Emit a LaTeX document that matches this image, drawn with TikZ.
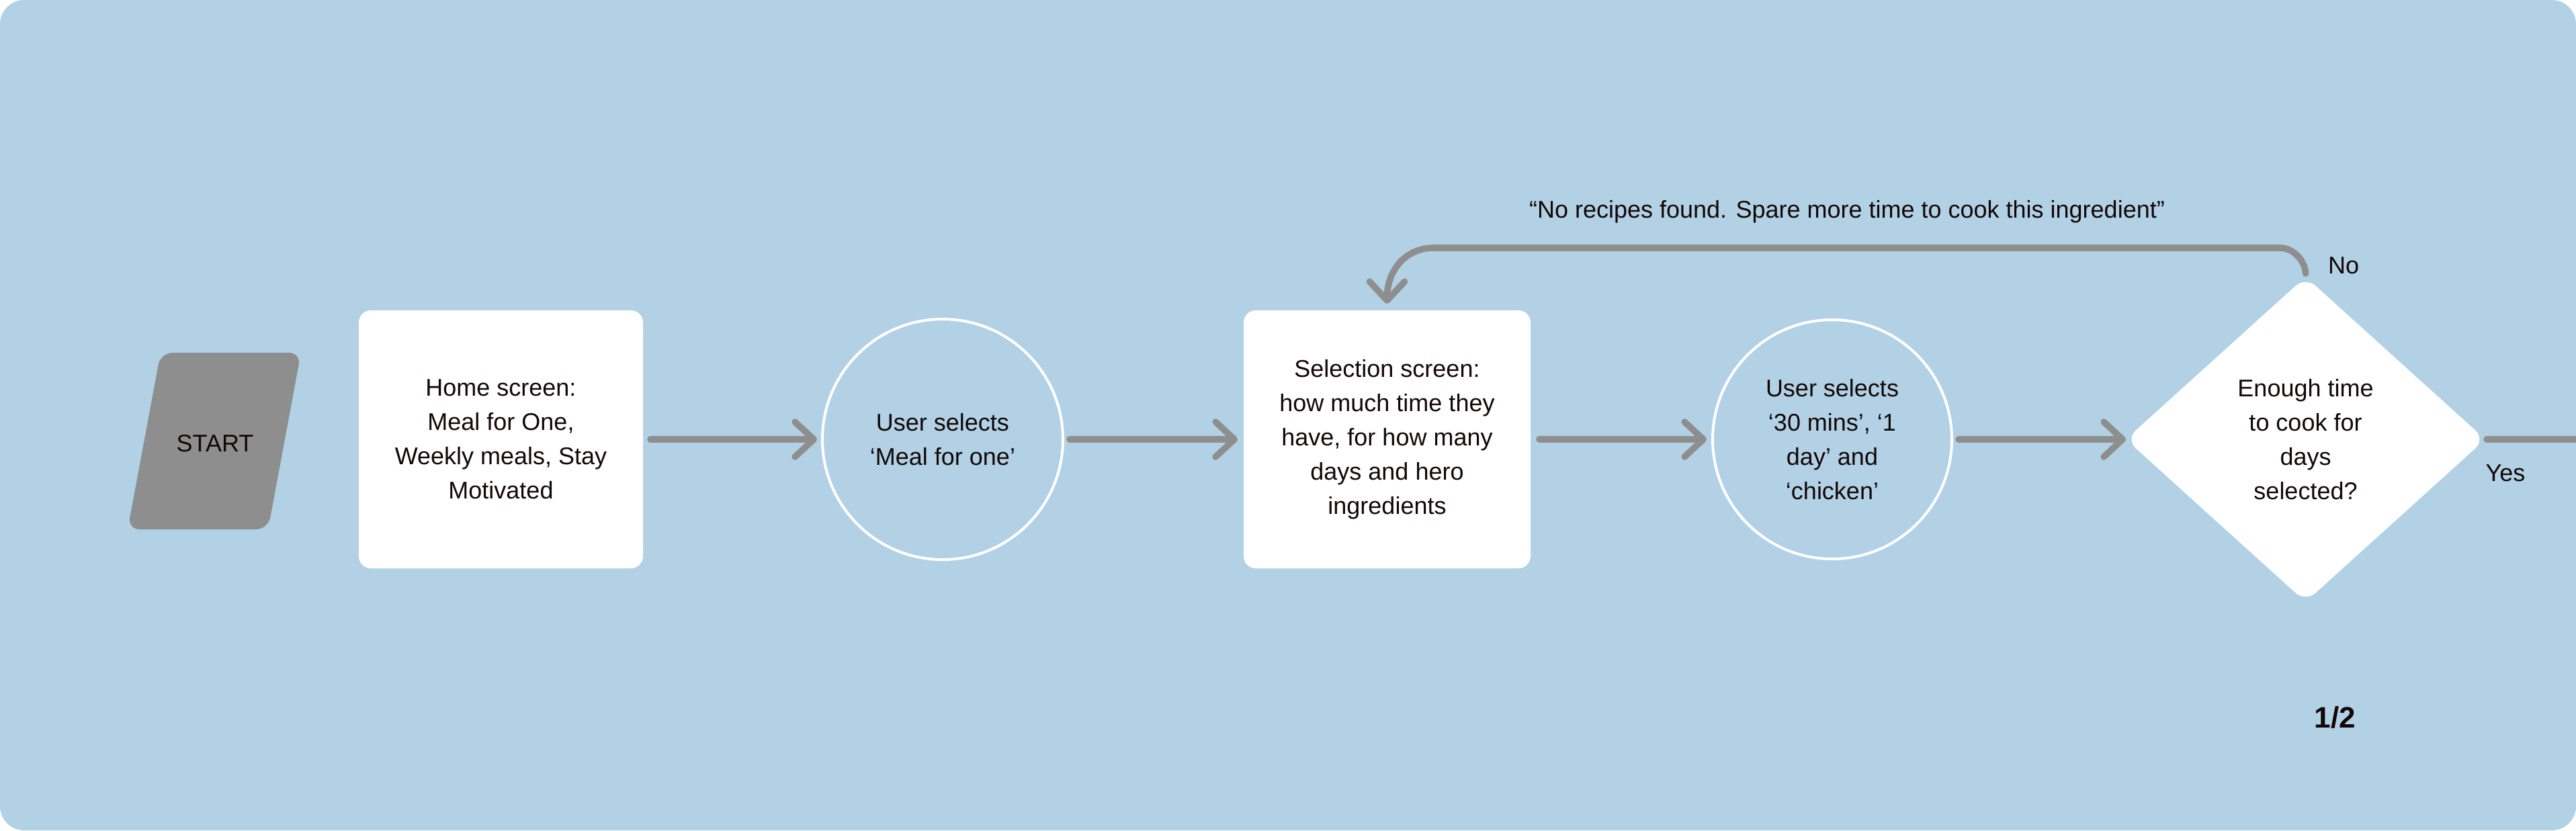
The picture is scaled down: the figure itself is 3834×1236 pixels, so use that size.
\documentclass[tikz,border=0pt]{standalone}
\usepackage{fontspec}
\setmainfont{Liberation Sans}
\usetikzlibrary{arrows.meta,shapes.geometric,calc}
\definecolor{bgblue}{HTML}{B2D1E5}
\definecolor{flowgray}{HTML}{8E8E8E}
\definecolor{txt}{HTML}{120808}
\newcommand\mainfs{\fontsize{9}{12.75}\selectfont}
\begin{document}
\begin{tikzpicture}[x=0.25pt,y=-0.25pt,
  boxnode/.style={fill=white, rounded corners=4.5pt, minimum height=96pt, inner sep=0pt, outer sep=0pt, align=center, text=txt, font=\mainfs},
  circnode/.style={circle, draw=white, line width=1pt, inner sep=0pt, align=center, text=txt, font=\mainfs},
  decnode/.style={diamond, fill=white, rounded corners=5pt, minimum width=133.75pt, minimum height=121pt, inner sep=0pt, outer sep=0pt, align=center, text=txt, font=\mainfs},
  conn/.style={draw=flowgray, line width=2.4pt, line cap=round, -{Straight Barb[length=7pt,width=13pt,round]}},
  plainconn/.style={draw=flowgray, line width=2.4pt, line cap=round},
  lbl/.style={text=txt, font=\mainfs, inner sep=0pt, outer sep=0pt}
]
\useasboundingbox (0,0) rectangle (3834,1236);
\fill[white] (0,0) rectangle (3834,1236);
\fill[bgblue, rounded corners=9pt] (0,0) rectangle (3834,1236);

% start parallelogram
\fill[flowgray, rounded corners=4.5pt] (190,788) -- (239,525) -- (448,525) -- (399,788) -- cycle;
\node[lbl, anchor=base] (start) at (320,672) {START};

% nodes
\node[boxnode, minimum width=105.75pt] (home) at (745.5,654) {Home screen:\\Meal for One,\\Weekly meals, Stay\\Motivated};
\node[circnode, minimum size=89.5pt] (sel1) at (1403,654) {User selects\\‘Meal for one’};
\node[boxnode, minimum width=106.75pt] (select) at (2064.5,654) {Selection screen:\\how much time they\\have, for how many\\days and hero\\ingredients};
\node[circnode, minimum size=89pt] (sel2) at (2727,654) {User selects\\‘30 mins’, ‘1\\day’ and\\‘chicken’};
\node[decnode] (dec) at (3431.5,654) {Enough time\\to cook for\\days\\selected?};

\coordinate (yesend) at (3850,654);
\coordinate (looprow) at (0,369);

% connectors
\draw[conn, shorten <=2.75pt, shorten >=1.5pt] (home.east) -- (sel1.west);
\draw[conn, shorten <=2pt, shorten >=2.25pt] (sel1.east) -- (select.west);
\draw[conn, shorten <=3.25pt, shorten >=1.75pt] (select.east) -- (sel2.west);
\draw[conn, shorten <=2pt, shorten >=0pt] (sel2.east) -- (dec.west);
\draw[plainconn, shorten <=0.5pt] (dec.east) -- (yesend);
\draw[conn, shorten >=2.5pt] ($(dec.north)+(0,-5)$) .. controls ($(dec.north|-looprow)+(0,21)$) and ($(dec.north|-looprow)+(-17,0)$) .. ($(dec.north|-looprow)+(-38,0)$)
  -- ($(select.north|-looprow)+(69,0)$) .. controls ($(select.north|-looprow)+(28,0)$) and ($(select.north)+(0,-60)$) .. (select.north);

% labels
\node[lbl, anchor=base] (nolbl) at (3488,407) {No};
\node[lbl, anchor=base] (yeslbl) at (3729,716) {Yes};
\node[lbl, anchor=base] (quote) at (2749,324) {“No recipes found. Spare more time to cook this ingredient”};
\node[lbl, anchor=base, font=\fontsize{11}{13}\selectfont\bfseries] (page) at (3475.5,1083) {1/2};
\end{tikzpicture}
\end{document}
